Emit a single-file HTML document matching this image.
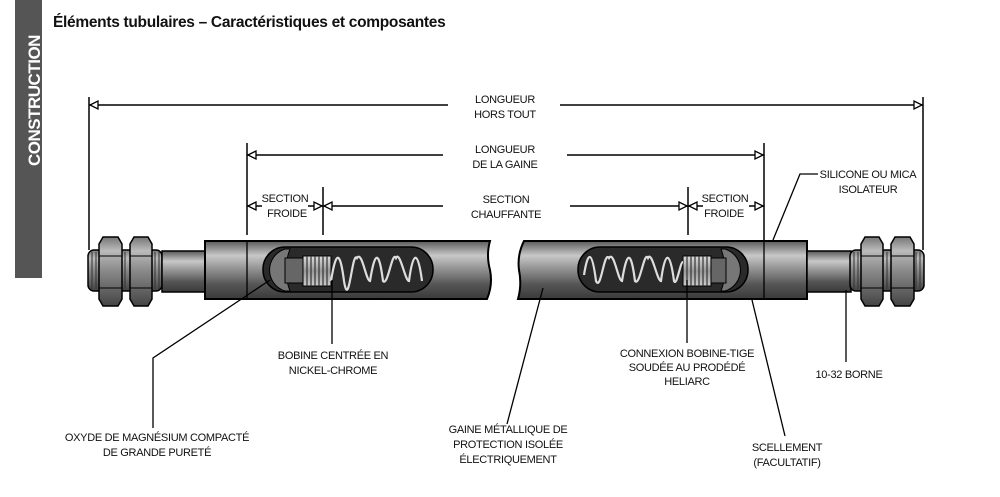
<!DOCTYPE html>
<html><head><meta charset="utf-8"><style>
body{margin:0;background:#fff;width:1000px;height:497px;overflow:hidden}
svg{display:block}
text{font-family:"Liberation Sans",sans-serif;font-size:11px;fill:#111;letter-spacing:-0.3px}
</style></head><body>
<svg width="1000" height="497" viewBox="0 0 1000 497" xmlns="http://www.w3.org/2000/svg">
<defs>
<linearGradient id="tg" x1="0" y1="0" x2="0" y2="1">
<stop offset="0" stop-color="#5a5a5a"/><stop offset="0.25" stop-color="#c8c8c8"/><stop offset="0.45" stop-color="#9a9a9a"/><stop offset="0.75" stop-color="#555"/><stop offset="1" stop-color="#3a3a3a"/>
</linearGradient>
<linearGradient id="ng" x1="0" y1="0" x2="0" y2="1">
<stop offset="0" stop-color="#777"/><stop offset="0.2" stop-color="#bbb"/><stop offset="0.5" stop-color="#888"/><stop offset="1" stop-color="#444"/>
</linearGradient>
<linearGradient id="cg" x1="0" y1="0" x2="0" y2="1">
<stop offset="0" stop-color="#ddd"/><stop offset="0.5" stop-color="#999"/><stop offset="1" stop-color="#ccc"/>
</linearGradient>
<g id="arrL"><path d="M0,0 L8,-4 L8,4 Z" fill="#fff" stroke="#000" stroke-width="1.3"/></g>
</defs>

<rect x="15" y="0" width="27" height="278" fill="#555"/>
<text transform="translate(40,166) rotate(-90)" style="font-size:17px;font-weight:bold;fill:#fff;letter-spacing:-0.5px">CONSTRUCTION</text>
<text x="53" y="27" style="font-size:15.5px;font-weight:bold;letter-spacing:-0.3px">Éléments tubulaires – Caractéristiques et composantes</text>

<g stroke="#000" stroke-width="1.5" fill="none">
<line x1="89" y1="97" x2="89" y2="250"/><line x1="923" y1="97" x2="923" y2="250"/>
<line x1="89" y1="105" x2="448" y2="105"/><line x1="560" y1="105" x2="923" y2="105"/>
<line x1="247" y1="143" x2="247" y2="235"/><line x1="764" y1="143" x2="764" y2="240"/>
<line x1="247" y1="155" x2="443" y2="155"/><line x1="567" y1="155" x2="764" y2="155"/>
<line x1="323" y1="187" x2="323" y2="235"/><line x1="688" y1="187" x2="688" y2="235"/>
<line x1="247" y1="206" x2="262" y2="206"/><line x1="308" y1="206" x2="323" y2="206"/>
<line x1="323" y1="206" x2="443" y2="206"/><line x1="570" y1="206" x2="688" y2="206"/>
<line x1="688" y1="206" x2="703" y2="206"/><line x1="749" y1="206" x2="764" y2="206"/>
</g>
<use href="#arrL" x="90" y="105"/>
<use href="#arrL" transform="translate(922,105) scale(-1,1)"/>
<use href="#arrL" x="248" y="155"/>
<use href="#arrL" transform="translate(763,155) scale(-1,1)"/>
<use href="#arrL" x="248" y="206"/>
<use href="#arrL" transform="translate(322,206) scale(-1,1)"/>
<use href="#arrL" x="324" y="206"/>
<use href="#arrL" transform="translate(687,206) scale(-1,1)"/>
<use href="#arrL" x="689" y="206"/>
<use href="#arrL" transform="translate(763,206) scale(-1,1)"/>

<g text-anchor="middle">
<text x="505" y="103">LONGUEUR</text><text x="505" y="118">HORS TOUT</text>
<text x="505" y="153">LONGUEUR</text><text x="505" y="168">DE LA GAINE</text>
<text x="506" y="203">SECTION</text><text x="506" y="218">CHAUFFANTE</text>
<text x="285" y="202">SECTION</text><text x="287" y="217">FROIDE</text>
<text x="725" y="202">SECTION</text><text x="724" y="217">FROIDE</text>
</g>

<!-- left terminal -->
<rect x="88" y="250" width="74" height="41" rx="6" fill="url(#ng)" stroke="#000" stroke-width="1.5"/>
<g stroke="#333" stroke-width="1"><line x1="92" y1="252" x2="92" y2="289"/><line x1="96" y1="252" x2="96" y2="289"/><line x1="125" y1="252" x2="125" y2="289"/><line x1="155" y1="252" x2="155" y2="289"/><line x1="159" y1="252" x2="159" y2="289"/></g>
<path d="M99,244 L103,237 L118,237 L122,244 L122,299 L118,306 L103,306 L99,299 Z" fill="url(#ng)" stroke="#000" stroke-width="1.5"/>
<path d="M130,244 L134,237 L148,237 L152,244 L152,299 L148,306 L134,306 L130,299 Z" fill="url(#ng)" stroke="#000" stroke-width="1.5"/>
<g stroke="#000" stroke-width="1"><line x1="99" y1="256" x2="122" y2="256"/><line x1="99" y1="288" x2="122" y2="288"/><line x1="130" y1="256" x2="152" y2="256"/><line x1="130" y1="288" x2="152" y2="288"/></g>
<rect x="162" y="251" width="44" height="41" fill="url(#tg)" stroke="#000" stroke-width="1.5"/>
<path d="M205,241 L490,241 Q486,255 490,270 Q493,285 487,299 L205,299 Z" fill="url(#tg)" stroke="#000" stroke-width="2"/>
<line x1="247" y1="241" x2="247" y2="299" stroke="#000" stroke-width="1.3"/>
<rect x="263" y="247" width="170" height="45" rx="22" fill="#2a2a2a" stroke="#000" stroke-width="1.5"/>
<path d="M285,249 A22,22 0 0 0 285,291 L290,291 Q282,270 290,249 Z" fill="#777" stroke="#000"/>
<rect x="285" y="258" width="20" height="25" fill="#666" stroke="#000"/>
<rect x="303" y="256" width="28" height="30" fill="url(#cg)" stroke="#000"/>
<g stroke="#333" stroke-width="1.2"><line x1="307" y1="256" x2="307" y2="286"/><line x1="311" y1="256" x2="311" y2="286"/><line x1="315" y1="256" x2="315" y2="286"/><line x1="319" y1="256" x2="319" y2="286"/><line x1="323" y1="256" x2="323" y2="286"/><line x1="327" y1="256" x2="327" y2="286"/></g>
<path d="M331,281 C336,250 340,250 344,281 C349,312 352,250 357,258 C362,250 366,281 370,281 C375,250 379,250 383,281 C388,287 392,250 396,258 C400,250 405,281 409,281 C413,250 418,250 422,281" fill="none" stroke="#ddd" stroke-width="2.2"/>

<!-- right tube -->
<path d="M524,241 L807,241 L807,299 L518,299 Q522,285 519,270 Q517,255 524,241 Z" fill="url(#tg)" stroke="#000" stroke-width="2"/>
<line x1="764" y1="241" x2="764" y2="299" stroke="#000" stroke-width="1.3"/>
<rect x="578" y="247" width="170" height="45" rx="22" fill="#2a2a2a" stroke="#000" stroke-width="1.5"/>
<path d="M725,249 A22,22 0 0 1 725,291 L721,291 Q729,270 721,249 Z" fill="#777" stroke="#000"/>
<rect x="710" y="258" width="16" height="25" fill="#666" stroke="#000"/>
<rect x="683" y="256" width="28" height="30" fill="url(#cg)" stroke="#000"/>
<g stroke="#333" stroke-width="1.2"><line x1="687" y1="256" x2="687" y2="286"/><line x1="691" y1="256" x2="691" y2="286"/><line x1="695" y1="256" x2="695" y2="286"/><line x1="699" y1="256" x2="699" y2="286"/><line x1="703" y1="256" x2="703" y2="286"/><line x1="707" y1="256" x2="707" y2="286"/></g>
<path d="M584,275 C588,250 592,250 596,281 C601,292 604,250 609,258 C614,250 618,281 622,281 C627,250 631,250 635,281 C640,287 644,250 648,258 C652,250 657,281 661,281 C665,250 670,250 674,281 C677,287 680,262 683,262" fill="none" stroke="#ddd" stroke-width="2.2"/>
<rect x="807" y="251" width="44" height="41" fill="url(#tg)" stroke="#000" stroke-width="1.5"/>
<rect x="850" y="250" width="74" height="41" rx="6" fill="url(#ng)" stroke="#000" stroke-width="1.5"/>
<g stroke="#333" stroke-width="1"><line x1="854" y1="252" x2="854" y2="289"/><line x1="858" y1="252" x2="858" y2="289"/><line x1="887" y1="252" x2="887" y2="289"/><line x1="916" y1="252" x2="916" y2="289"/><line x1="920" y1="252" x2="920" y2="289"/></g>
<path d="M861,244 L865,237 L879,237 L883,244 L883,299 L879,306 L865,306 L861,299 Z" fill="url(#ng)" stroke="#000" stroke-width="1.5"/>
<path d="M891,244 L895,237 L910,237 L914,244 L914,299 L910,306 L895,306 L891,299 Z" fill="url(#ng)" stroke="#000" stroke-width="1.5"/>
<g stroke="#000" stroke-width="1"><line x1="861" y1="256" x2="883" y2="256"/><line x1="861" y1="288" x2="883" y2="288"/><line x1="891" y1="256" x2="914" y2="256"/><line x1="891" y1="288" x2="914" y2="288"/></g>

<!-- leaders -->
<g stroke="#000" stroke-width="1.3" fill="none">
<polyline points="153,428 153,358 270,280"/>
<line x1="332" y1="280" x2="332" y2="344"/>
<line x1="507" y1="424" x2="543" y2="288"/>
<line x1="687" y1="280" x2="687" y2="343"/>
<line x1="785" y1="436" x2="752" y2="300"/>
<line x1="846" y1="290" x2="846" y2="362"/>
<polyline points="773,240 800,174 818,174"/>
</g>
<g text-anchor="middle">
<text x="157" y="441">OXYDE DE MAGNÉSIUM COMPACTÉ</text><text x="157" y="456">DE GRANDE PURETÉ</text>
<text x="333" y="359">BOBINE CENTRÉE EN</text><text x="333" y="374">NICKEL-CHROME</text>
<text x="508" y="433">GAINE MÉTALLIQUE DE</text><text x="508" y="448">PROTECTION ISOLÉE</text><text x="508" y="463">ÉLECTRIQUEMENT</text>
<text x="687" y="357">CONNEXION BOBINE-TIGE</text><text x="687" y="371">SOUDÉE AU PRODÉDÉ</text><text x="687" y="385">HELIARC</text>
<text x="787" y="451">SCELLEMENT</text><text x="787" y="466">(FACULTATIF)</text>
<text x="849" y="378">10-32 BORNE</text>
<text x="868" y="178">SILICONE OU MICA</text><text x="868" y="193">ISOLATEUR</text>
</g>
</svg>
</body></html>
